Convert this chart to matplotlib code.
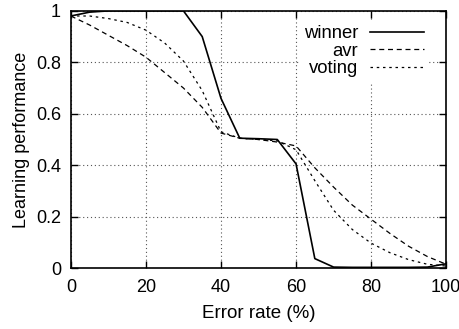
import matplotlib
matplotlib.use('Agg')
import matplotlib.pyplot as plt
from matplotlib.ticker import FuncFormatter

plt.rcParams['font.family'] = ['Liberation Sans', 'DejaVu Sans']

error_rate = [0, 5, 10, 15, 20, 25, 30, 35, 40, 45, 50, 55, 60, 65, 70, 75, 80, 85, 90, 95, 100]
winner = [0.98, 0.995, 1.0, 1.0, 1.0, 1.0, 1.0, 0.9, 0.66, 0.505, 0.503, 0.5, 0.405, 0.037, 0.004, 0.003, 0.003, 0.003, 0.003, 0.004, 0.017]
avr = [0.98, 0.945, 0.905, 0.865, 0.82, 0.76, 0.70, 0.625, 0.525, 0.505, 0.50, 0.49, 0.475, 0.39, 0.315, 0.245, 0.19, 0.135, 0.085, 0.045, 0.015]
voting = [0.98, 0.98, 0.97, 0.955, 0.925, 0.875, 0.805, 0.69, 0.53, 0.505, 0.50, 0.495, 0.46, 0.34, 0.225, 0.15, 0.097, 0.06, 0.033, 0.015, 0.008]

fs = 13

fig = plt.figure(figsize=(4.6, 3.29), dpi=100)
ax = fig.add_axes([0.154, 0.185, 0.816, 0.782])

ax.plot(error_rate, winner, color='k', linewidth=1.2, label='winner')
ax.plot(error_rate, avr, color='k', linewidth=0.9, dashes=(4, 3), label='avr')
ax.plot(error_rate, voting, color='k', linewidth=0.9, dashes=(2, 3), label='voting')

ax.set_xlim(0, 100)
ax.set_ylim(0, 1)
ax.set_xticks([0, 20, 40, 60, 80, 100])
ax.set_yticks([0, 0.2, 0.4, 0.6, 0.8, 1])
ax.yaxis.set_major_formatter(FuncFormatter(lambda v, p: '%g' % v))
ax.tick_params(direction='in', length=5, width=1, top=True, right=True, labelsize=fs)
ax.tick_params(axis='x', pad=8)
ax.tick_params(axis='y', pad=7)
ax.grid(True, color='#555555', linestyle=(0, (1, 2.5)), linewidth=0.8)
for s in ax.spines.values():
    s.set_linewidth(1.2)

ax.set_xlabel('Error rate (%)', fontsize=13.5, labelpad=6)
ax.set_ylabel('Learning performance', fontsize=fs, labelpad=4)

leg = ax.legend(loc='upper right', bbox_to_anchor=(0.952, 0.962), markerfirst=False,
                fontsize=13.3, frameon=True, handlelength=2.9, labelspacing=0.03,
                borderaxespad=0, borderpad=0.25, handletextpad=0.65, fancybox=False)
leg.get_frame().set_facecolor('white')
leg.get_frame().set_edgecolor('none')
leg.get_frame().set_alpha(1)
for t in leg.get_texts():
    t.set_ha('right')

fig.savefig('out.png', dpi=100)
